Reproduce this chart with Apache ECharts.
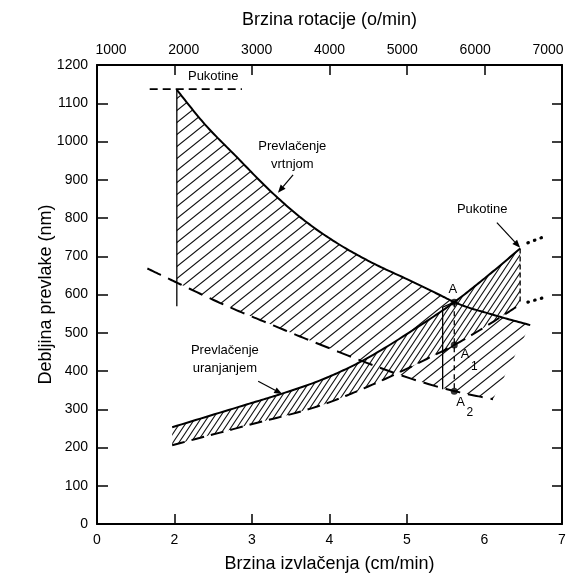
<!DOCTYPE html>
<html>
<head>
<meta charset="utf-8">
<script src="https://cdn.jsdelivr.net/npm/echarts@6/dist/echarts.min.js"></script>
<style>
  html, body { margin: 0; padding: 0; background: #ffffff; }
  #chart { width: 576px; height: 578px; }
</style>
</head>
<body>
<div id="chart"></div>
<script>
// Withdrawal speed (cm/min) vs. coating thickness (nm)

// Spin coating window: solid upper limit and dashed lower limit
const spinUpper = [[2.03, 1135], [2.37, 1050], [2.81, 958], [3.23, 872], [3.66, 796], [4.1, 734],
                   [4.52, 686], [5.0, 640], [5.43, 598], [5.61, 580], [6.11, 547], [6.59, 520]];
const spinLower = [[1.65, 668], [2.03, 631], [2.72, 566], [3.17, 528], [3.77, 478], [5.62, 347], [6.11, 326]];

// Dip coating window: solid upper limit and dashed lower limit
const dipUpper = [[1.97, 253], [2.94, 313], [3.36, 339], [3.97, 383], [4.39, 423], [5.13, 514],
                  [5.61, 580], [6.03, 647], [6.46, 720]];
const dipLower = [[1.97, 206], [2.94, 258], [3.97, 316], [4.39, 350], [5.26, 432], [5.61, 468],
                  [6.2, 540], [6.46, 574]];

// Crack limits
const crackTop = [[1.68, 1137], [2.87, 1137]];
const crackRight = [[6.46, 720], [6.46, 574]];
const spinLeftEdge = [[2.03, 1135], [2.03, 569]];
const crackDotsUpper = [[6.56, 735], [6.78, 752]];
const crackDotsLower = [[6.56, 580], [6.8, 594]];

// Points A, A1, A2 and the construction lines between them
const pointNames = ['A', 'A1', 'A2'];
const pointValues = [[5.61, 580], [5.61, 468], [5.61, 347]];
const dropLine = [[5.61, 580], [5.61, 347]];
const boxLine = [[5.61, 580], [5.46, 567], [5.46, 352]];
const boxStep = [[5.46, 449], [5.61, 468]];

// Axis tick labels
const speedTickValues = [1, 2, 3, 4, 5, 6, 7];
const speedTickText = ['0', '2', '3', '4', '5', '6', '7'];
const rpmTickValues = [1000, 2000, 3000, 4000, 5000, 6000, 7000];
const thicknessTicks = [0, 100, 200, 300, 400, 500, 600, 700, 800, 900, 1000, 1100, 1200];

// Annotations: text and anchor (data coordinates)
const noteText = ['Pukotine', 'Prevlačenje\nvrtnjom', 'Pukotine', 'Prevlačenje\nuranjanjem',
                  'A', 'A', '1', 'A', '2'];
const noteAnchor = [[2.5, 1169], [3.52, 963], [5.97, 822], [2.65, 430],
                    [5.59, 613], [5.75, 443], [5.87, 412], [5.69, 318], [5.81, 291]];
const arrows = [
  [[3.53, 913], [3.335, 866]],
  [[6.16, 788], [6.46, 722]],
  [[3.08, 373], [3.39, 340]]
];

const INK = '#000000';
const TICK_FONT = "'Liberation Sans Narrow', 'Arial Narrow', 'Liberation Sans', sans-serif";
const TEXT_FONT = "'Liberation Sans', Arial, sans-serif";

// Diagonal hatch tile (lines through (0,h) and (w,0))
function hatch(w, h, color, lw) {
  const c = document.createElement('canvas');
  c.width = w; c.height = h;
  const g = c.getContext('2d');
  g.strokeStyle = color; g.lineWidth = lw;
  g.beginPath();
  [-w, 0, w].forEach(function (o) {
    g.moveTo(o - w, 2 * h);
    g.lineTo(o + 2 * w, -h);
  });
  g.stroke();
  return { image: c, repeat: 'repeat' };
}
const sparseHatch = hatch(15, 12, '#111111', 1.1);
const denseHatch = hatch(6, 9, '#111111', 1.05);

// Cubic Hermite through pixel points (x increasing), with non-uniform three-point tangents
function smoothPx(pts) {
  const n = pts.length;
  if (n < 3) return pts.slice();
  const h = [], d = [], m = [];
  for (let i = 0; i < n - 1; i++) {
    h.push(pts[i + 1][0] - pts[i][0]);
    d.push((pts[i + 1][1] - pts[i][1]) / h[i]);
  }
  m.push(d[0]);
  for (let i = 1; i < n - 1; i++) {
    m.push((d[i - 1] * h[i] + d[i] * h[i - 1]) / (h[i - 1] + h[i]));
  }
  m.push(d[n - 2]);
  const out = [];
  for (let i = 0; i < n - 1; i++) {
    const steps = 16;
    for (let k = 0; k < steps; k++) {
      const t = k / steps, t2 = t * t, t3 = t2 * t;
      const h00 = 2 * t3 - 3 * t2 + 1, h10 = t3 - 2 * t2 + t, h01 = -2 * t3 + 3 * t2, h11 = t3 - t2;
      out.push([
        pts[i][0] + h[i] * t,
        h00 * pts[i][1] + h10 * h[i] * m[i] + h01 * pts[i + 1][1] + h11 * h[i] * m[i + 1]
      ]);
    }
  }
  out.push(pts[n - 1]);
  return out;
}

function toPx(api, pts) { return pts.map(function (p) { return api.coord(p); }); }

// Hatched region between an upper and a lower boundary
function regionSeries(upper, lower, fills, z) {
  return {
    type: 'custom', coordinateSystem: 'cartesian2d', silent: true, z: z,
    data: [upper[0]],
    renderItem: function (params, api) {
      const up = smoothPx(toPx(api, upper));
      const lo = smoothPx(toPx(api, lower)).reverse();
      const poly = up.concat(lo);
      return {
        type: 'group',
        children: fills.map(function (f) {
          return { type: 'polygon', shape: { points: poly }, style: { fill: f, stroke: null } };
        })
      };
    }
  };
}

// Stroked curve (solid, dashed or dotted)
function curveSeries(pts, style, z, smooth) {
  return {
    type: 'custom', coordinateSystem: 'cartesian2d', silent: true, z: z,
    data: [pts[0]],
    renderItem: function (params, api) {
      let px = toPx(api, pts);
      if (smooth) px = smoothPx(px);
      return {
        type: 'polyline',
        shape: { points: px },
        style: Object.assign({ stroke: INK, fill: null, lineWidth: 1.8 }, style)
      };
    }
  };
}

// Arrows pointing at curves
const arrowSeries = {
  type: 'custom', coordinateSystem: 'cartesian2d', silent: true, z: 6,
  data: arrows.map(function (a) { return a[0]; }),
  renderItem: function (params, api) {
    const a = arrows[params.dataIndex];
    const p0 = api.coord(a[0]), p1 = api.coord(a[1]);
    const dx = p1[0] - p0[0], dy = p1[1] - p0[1];
    const len = Math.sqrt(dx * dx + dy * dy);
    const ux = dx / len, uy = dy / len;
    const hl = 8, hw = 3.2;
    const bx = p1[0] - ux * hl, by = p1[1] - uy * hl;
    return {
      type: 'group',
      children: [
        { type: 'line', shape: { x1: p0[0], y1: p0[1], x2: bx, y2: by }, style: { stroke: INK, lineWidth: 1.2 } },
        { type: 'polygon', shape: { points: [[p1[0], p1[1]], [bx - uy * hw, by + ux * hw], [bx + uy * hw, by - ux * hw]] },
          style: { fill: INK } }
      ]
    };
  }
};

// Text annotations placed at data coordinates
const noteSeries = {
  type: 'custom', coordinateSystem: 'cartesian2d', silent: true, z: 8,
  data: noteAnchor,
  renderItem: function (params, api) {
    const t = noteText[params.dataIndex];
    const p = api.coord(noteAnchor[params.dataIndex]);
    const sub = (t === '1' || t === '2');
    return {
      type: 'text',
      x: p[0], y: p[1],
      style: {
        text: t, fill: INK, align: 'center', verticalAlign: 'middle',
        fontFamily: TEXT_FONT, fontSize: sub ? 12 : 13, lineHeight: 18
      }
    };
  }
};

const chart = echarts.init(document.getElementById('chart'), null, { renderer: 'canvas' });

const plain = function (v) { return String(v); };
const tickLabelStyle = { color: INK, fontSize: 14, fontFamily: TICK_FONT };
const frameLine = { show: true, lineStyle: { color: INK, width: 2 } };

chart.setOption({
  backgroundColor: '#ffffff',
  animation: false,
  grid: { left: 97, right: 14, top: 65, bottom: 53, containLabel: false },
  xAxis: [
    {
      type: 'value', position: 'bottom', min: 1, max: 7,
      axisLine: frameLine,
      axisTick: { show: true, inside: true, length: 10, customValues: [2, 3, 4, 5], lineStyle: { color: INK, width: 1.5 } },
      axisLabel: Object.assign({
        margin: 9, customValues: speedTickValues,
        formatter: function (v) { return speedTickText[speedTickValues.indexOf(v)]; }
      }, tickLabelStyle),
      splitLine: { show: false },
      name: 'Brzina izvlačenja (cm/min)', nameLocation: 'middle', nameGap: 31, nameMoveOverlap: false,
      nameTextStyle: { color: INK, fontSize: 18, fontFamily: TEXT_FONT }
    },
    {
      type: 'value', position: 'top', min: 808, max: 7192,
      axisLine: { show: false }, axisTick: { show: false },
      axisLabel: Object.assign({ margin: 8, customValues: rpmTickValues, formatter: plain }, tickLabelStyle),
      splitLine: { show: false },
      name: 'Brzina rotacije (o/min)', nameLocation: 'middle', nameGap: 36, nameMoveOverlap: false,
      nameTextStyle: { color: INK, fontSize: 18, fontFamily: TEXT_FONT }
    },
    {
      type: 'value', position: 'top', min: 1, max: 7,
      axisLine: frameLine,
      axisTick: { show: true, inside: true, length: 10, customValues: [2, 3, 4, 5, 6], lineStyle: { color: INK, width: 1.5 } },
      axisLabel: { show: false }, splitLine: { show: false }
    }
  ],
  yAxis: [
    {
      type: 'value', position: 'left', min: 0, max: 1200, interval: 100,
      axisLine: frameLine,
      axisTick: { show: true, inside: true, length: 11, lineStyle: { color: INK, width: 1.5 } },
      axisLabel: Object.assign({ margin: 9, customValues: thicknessTicks, formatter: plain }, tickLabelStyle),
      splitLine: { show: false },
      name: 'Debljina prevlake (nm)', nameLocation: 'middle', nameGap: 42, nameMoveOverlap: false,
      nameTextStyle: { color: INK, fontSize: 18, fontFamily: TEXT_FONT }
    },
    {
      type: 'value', position: 'right', min: 0, max: 1200, interval: 100,
      axisLine: frameLine,
      axisTick: { show: true, inside: true, length: 10, lineStyle: { color: INK, width: 1.5 } },
      axisLabel: { show: false }, splitLine: { show: false }
    }
  ],
  series: [
    // spin coating window (sparse hatch), cut at the left edge and closed toward the dashed line end
    regionSeries(spinUpper, spinLower.filter(function (p) { return p[0] >= 2; }), [sparseHatch], 1),
    // dip coating window (dense hatch over white)
    regionSeries(dipUpper, dipLower, ['#ffffff', denseHatch], 2),

    curveSeries(spinUpper, { lineWidth: 2 }, 4, true),
    curveSeries(spinLower, { lineWidth: 2, lineDash: [15, 8] }, 4, true),
    curveSeries(dipUpper, { lineWidth: 2 }, 4, true),
    curveSeries(dipLower, { lineWidth: 2, lineDash: [13, 7] }, 4, true),
    curveSeries(crackTop, { lineWidth: 1.6, lineDash: [8, 5] }, 4, false),
    curveSeries(spinLeftEdge, { lineWidth: 1.3 }, 4, false),
    curveSeries(crackRight, { lineWidth: 1.3, lineDash: [5, 3] }, 4, false),
    curveSeries(crackDotsUpper, { lineWidth: 3.2, lineDash: [0.5, 6.5], lineCap: 'round' }, 4, false),
    curveSeries(crackDotsLower, { lineWidth: 3.2, lineDash: [0.5, 6.5], lineCap: 'round' }, 4, false),
    curveSeries(dropLine, { lineWidth: 1.3, lineDash: [5, 4] }, 4, false),
    curveSeries(boxLine, { lineWidth: 1.3 }, 4, false),
    curveSeries(boxStep, { lineWidth: 1.3 }, 4, false),
    arrowSeries,
    {
      type: 'scatter', name: 'Točke', silent: true, z: 7,
      symbol: 'circle', symbolSize: 7,
      itemStyle: { color: INK },
      data: pointValues.map(function (v, i) { return { name: pointNames[i], value: v }; })
    },
    noteSeries
  ]
});
</script>
</body>
</html>
